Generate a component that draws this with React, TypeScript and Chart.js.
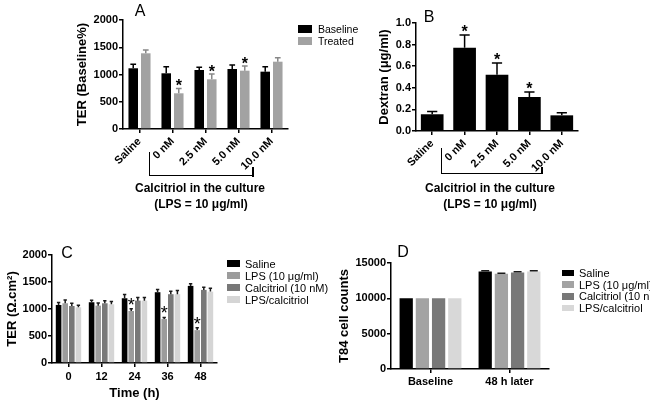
import React, { useEffect, useRef } from "react";
import { Chart, registerables } from "chart.js";

Chart.register(...registerables);

const FONT = "'Liberation Sans', Arial, Helvetica, sans-serif";

// ---------- Panel A: TER (Baseline%) ----------
const doseLabels = ["Saline", "0 nM", "2.5 nM", "5.0 nM", "10.0 nM"];
const legendA = ["Baseline", "Treated"];
const terBaseline = [1114, 1022, 1083, 1101, 1052];
const terBaselineErr = [73, 120, 50, 73, 90];
const terTreated = [1389, 655, 912, 1070, 1235];
const terTreatedErr = [60, 90, 97, 86, 73];
const terTreatedStar = [false, true, true, true, false];

// ---------- Panel B: Dextran ----------
const dextran = [0.155, 0.77, 0.52, 0.315, 0.145];
const dextranErr = [0.025, 0.12, 0.11, 0.045, 0.025];
const dextranStar = [false, true, true, true, false];

// ---------- Panel C: TER over time ----------
const timeLabels = ["0", "12", "24", "36", "48"];
const legendCD = ["Saline", "LPS (10 \u03bcg/ml)", "Calcitriol (10 nM)", "LPS/calcitriol"];
const terSalineC = [1075, 1125, 1199, 1311, 1428];
const terSalineErrC = [45, 35, 70, 50, 40];
const terLpsC = [1106, 1062, 963, 814, 609];
const terLpsErrC = [60, 50, 40, 30, 45];
const terLpsStarC = [false, false, true, true, true];
const terCalcC = [1056, 1106, 1155, 1274, 1354];
const terCalcErrC = [50, 45, 60, 55, 50];
const terLpsCalcC = [1031, 1087, 1155, 1274, 1322];
const terLpsCalcErrC = [40, 50, 60, 70, 60];

// ---------- Panel D: T84 cell counts ----------
const countLabels = ["Baseline", "48 h later"];
const countSaline = [10000, 13810];
const countSalineErr = [0, 90];
const countLps = [10000, 13490];
const countLpsErr = [0, 70];
const countCalc = [10000, 13670];
const countCalcErr = [0, 80];
const countLpsCalc = [10000, 13810];
const countLpsCalcErr = [0, 100];

const COL_BLACK = "#000000";
const COL_TREATED = "#a2a2a2";
const COL_LPS = "#9c9c9c";
const COL_CALC = "#787878";
const COL_LPSCALC = "#d5d5d5";

const errorStarsPlugin = {
  id: "errorStars",
  afterDatasetsDraw(chart: any, _args: any, opts: any) {
    const ctx = chart.ctx;
    const yScale = chart.scales.y;
    chart.data.datasets.forEach((ds: any, di: number) => {
      const meta = chart.getDatasetMeta(di);
      if (meta.hidden) return;
      meta.data.forEach((bar: any, i: number) => {
        const v = ds.data[i];
        const e = ds.errors ? ds.errors[i] : 0;
        const p = bar.getProps(["x", "y", "width"], true);
        const yTop = yScale.getPixelForValue(v + e);
        ctx.save();
        if (e > 0) {
          const half = (p.width * opts.capRatio) / 2;
          ctx.strokeStyle = ds.errColor || "#000";
          ctx.lineWidth = opts.lineWidth;
          ctx.beginPath();
          ctx.moveTo(p.x, p.y);
          ctx.lineTo(p.x, yTop);
          ctx.moveTo(p.x - half, yTop);
          ctx.lineTo(p.x + half, yTop);
          ctx.stroke();
        }
        if (ds.stars && ds.stars[i]) {
          ctx.fillStyle = "#000";
          ctx.font = opts.starFont;
          ctx.textAlign = "center";
          ctx.textBaseline = "alphabetic";
          ctx.fillText("*", p.x, yTop + opts.starDy);
        }
        ctx.restore();
      });
    });
  },
};

function yAxis(min: number, max: number, step: number, title: string, width: number, fmt?: (v: number) => string) {
  return {
    type: "linear",
    min,
    max,
    ticks: {
      stepSize: step,
      color: "#000",
      padding: 1,
      font: { family: FONT, size: 11, weight: "bold" },
      callback: (v: any) => (fmt ? fmt(Number(v)) : String(v)),
    },
    grid: { display: true, drawOnChartArea: false, drawTicks: true, tickLength: 4, color: "#000", lineWidth: 1.5 },
    border: { display: true, color: "#000", width: 1.5 },
    title: {
      display: true,
      text: title,
      color: "#000",
      padding: 0,
      font: { family: FONT, size: 13, weight: "bold", lineHeight: 1.2 },
    },
    afterFit: (s: any) => {
      s.width = width;
    },
  };
}

function xAxis(height: number, rotation: number, padding: number, title?: string) {
  return {
    type: "category",
    offset: true,
    ticks: {
      color: "#000",
      padding,
      minRotation: rotation,
      maxRotation: rotation,
      autoSkip: false,
      font: { family: FONT, size: 11, weight: "bold" },
    },
    grid: { display: true, offset: false, drawOnChartArea: false, drawTicks: true, tickLength: 4, color: "#000", lineWidth: 1.5 },
    border: { display: true, color: "#000", width: 1.5 },
    title: {
      display: !!title,
      text: title || "",
      color: "#000",
      padding: 0,
      font: { family: FONT, size: 13, weight: "bold", lineHeight: 1.2 },
    },
    afterFit: (s: any) => {
      s.height = height;
    },
  };
}

function baseOptions(padding: any, x: any, y: any, err: any) {
  return {
    responsive: false,
    maintainAspectRatio: false,
    animation: false,
    devicePixelRatio: 1,
    layout: { padding },
    scales: { x, y },
    plugins: {
      legend: { display: false },
      tooltip: { enabled: false },
      errorStars: err,
    },
  };
}

function configA() {
  return {
    type: "bar",
    data: {
      labels: doseLabels,
      datasets: [
        {
          label: legendA[0],
          data: terBaseline,
          errors: terBaselineErr,
          errColor: "#000",
          backgroundColor: COL_BLACK,
          categoryPercentage: 0.76,
          barPercentage: 0.76,
        },
        {
          label: legendA[1],
          data: terTreated,
          errors: terTreatedErr,
          stars: terTreatedStar,
          errColor: "#888888",
          backgroundColor: COL_TREATED,
          categoryPercentage: 0.76,
          barPercentage: 0.76,
        },
      ],
    },
    options: baseOptions(
      { left: 75, top: 20, right: 7, bottom: 0 },
      xAxis(71, 45, 2),
      yAxis(0, 2000, 500, "TER (Baseline%)", 48),
      { capRatio: 0.6, lineWidth: 1.5, starFont: `bold 16px ${FONT}`, starDy: 3 }
    ),
    plugins: [errorStarsPlugin],
  };
}

function configB() {
  return {
    type: "bar",
    data: {
      labels: doseLabels,
      datasets: [
        {
          label: "Dextran",
          data: dextran,
          errors: dextranErr,
          stars: dextranStar,
          errColor: "#000",
          backgroundColor: COL_BLACK,
          categoryPercentage: 1,
          barPercentage: 0.7,
        },
      ],
    },
    options: baseOptions(
      { left: 47, top: 23, right: 12, bottom: 0 },
      xAxis(69, 45, 2),
      yAxis(0, 1, 0.2, "Dextran (\u03bcg/ml)", 39, (v) => v.toFixed(1)),
      { capRatio: 0.45, lineWidth: 1.5, starFont: `bold 16px ${FONT}`, starDy: 2 }
    ),
    plugins: [errorStarsPlugin],
  };
}

function fourSeries(values: number[][], errs: number[][], colors: string[], stars: (boolean[] | undefined)[], cp: number, bp: number) {
  return values.map((d, i) => ({
    label: legendCD[i],
    data: d,
    errors: errs[i],
    stars: stars[i],
    errColor: "#1a1a1a",
    backgroundColor: colors[i],
    categoryPercentage: cp,
    barPercentage: bp,
  }));
}

function configC() {
  return {
    type: "bar",
    data: {
      labels: timeLabels,
      datasets: fourSeries(
        [terSalineC, terLpsC, terCalcC, terLpsCalcC],
        [terSalineErrC, terLpsErrC, terCalcErrC, terLpsCalcErrC],
        [COL_BLACK, COL_LPS, COL_CALC, COL_LPSCALC],
        [undefined, terLpsStarC, undefined, undefined],
        0.8,
        0.85
      ),
    },
    options: baseOptions(
      { left: 5, top: 25, right: 13, bottom: 3 },
      xAxis(38, 0, 3, "Time (h)"),
      yAxis(0, 2000, 500, "TER (\u03a9.cm\u00b2)", 47),
      { capRatio: 0.6, lineWidth: 1.5, starFont: `18px ${FONT}`, starDy: 2 }
    ),
    plugins: [errorStarsPlugin],
  };
}

function configD() {
  return {
    type: "bar",
    data: {
      labels: countLabels,
      datasets: fourSeries(
        [countSaline, countLps, countCalc, countLpsCalc],
        [countSalineErr, countLpsErr, countCalcErr, countLpsCalcErr],
        [COL_BLACK, "#a3a3a3", COL_CALC, "#d8d8d8"],
        [undefined, undefined, undefined, undefined],
        0.82,
        0.82
      ),
    },
    options: baseOptions(
      { left: 7, top: 33, right: 101, bottom: 0 },
      xAxis(35, 0, 2),
      yAxis(0, 15000, 5000, "T84 cell counts", 54),
      { capRatio: 0.6, lineWidth: 1.5, starFont: `15px ${FONT}`, starDy: 3 }
    ),
    plugins: [errorStarsPlugin],
  };
}

function ChartBox(props: { left: number; top: number; width: number; height: number; make: () => any }) {
  const ref = useRef<HTMLCanvasElement>(null);
  useEffect(() => {
    const chart = new Chart(ref.current as HTMLCanvasElement, props.make());
    return () => chart.destroy();
  }, []);
  return (
    <canvas
      ref={ref}
      width={props.width}
      height={props.height}
      style={{ position: "absolute", left: props.left, top: props.top, width: props.width, height: props.height }}
    />
  );
}

function Txt(props: { x: number; y: number; size: number; bold?: boolean; children: React.ReactNode }) {
  return (
    <div
      style={{
        position: "absolute",
        left: props.x,
        top: props.y,
        transform: "translate(-50%, -50%)",
        fontFamily: FONT,
        fontSize: props.size,
        fontWeight: props.bold ? "bold" : "normal",
        lineHeight: 1,
        whiteSpace: "nowrap",
        color: "#000",
      }}
    >
      {props.children}
    </div>
  );
}

function Rect(props: { x: number; y: number; w: number; h: number }) {
  return <div style={{ position: "absolute", left: props.x, top: props.y, width: props.w, height: props.h, background: "#000" }} />;
}

function Legend(props: { x: number; y: number; spacing: number; boxW: number; boxH: number; textX: number; size: number; labels: string[]; colors: string[] }) {
  return (
    <>
      {props.labels.map((lab, i) => (
        <React.Fragment key={i}>
          <div
            style={{
              position: "absolute",
              left: props.x,
              top: props.y + i * props.spacing - props.boxH / 2,
              width: props.boxW,
              height: props.boxH,
              background: props.colors[i],
            }}
          />
          <div
            style={{
              position: "absolute",
              left: props.textX,
              top: props.y + i * props.spacing,
              transform: "translateY(-50%)",
              fontFamily: FONT,
              fontSize: props.size,
              lineHeight: 1,
              whiteSpace: "nowrap",
              color: "#000",
            }}
          >
            {lab}
          </div>
        </React.Fragment>
      ))}
    </>
  );
}

export default function App() {
  return (
    <div style={{ position: "fixed", left: 0, top: 0, width: 650, height: 404, overflow: "hidden", background: "#fff" }}>
      <ChartBox left={0} top={0} width={295} height={200} make={configA} />
      <ChartBox left={330} top={0} width={260} height={200} make={configB} />
      <ChartBox left={0} top={230} width={230} height={174} make={configC} />
      <ChartBox left={330} top={230} width={320} height={174} make={configD} />

      <Txt x={140} y={11} size={16}>A</Txt>
      <Txt x={429} y={17} size={16}>B</Txt>
      <Txt x={67} y={253} size={16}>C</Txt>
      <Txt x={403} y={252} size={16}>D</Txt>

      <Legend x={298} y={28.5} spacing={12.5} boxW={14} boxH={8} textX={318} size={10.5} labels={legendA} colors={[COL_BLACK, COL_TREATED]} />
      <Legend x={227} y={263.5} spacing={12} boxW={13} boxH={7} textX={245} size={11} labels={legendCD} colors={[COL_BLACK, COL_LPS, COL_CALC, COL_LPSCALC]} />
      <Legend x={562} y={273} spacing={11.7} boxW={11.5} boxH={6.5} textX={579} size={11} labels={legendCD} colors={[COL_BLACK, "#a3a3a3", COL_CALC, "#d8d8d8"]} />

      {/* Bracket A */}
      <Rect x={148.5} y={152} w={1.5} h={24} />
      <Rect x={148.5} y={174.5} w={105} h={1.5} />
      <Rect x={252} y={166.5} w={1.5} h={10} />
      <Txt x={200} y={188} size={12} bold>Calcitriol in the culture</Txt>
      <Txt x={201} y={204} size={12} bold>(LPS = 10 {"\u03bc"}g/ml)</Txt>

      {/* Bracket B */}
      <Rect x={440.5} y={148} w={1.5} h={26} />
      <Rect x={440.5} y={172.5} w={102} h={1.5} />
      <Rect x={541} y={166.5} w={1.5} h={7.5} />
      <Txt x={490} y={188} size={12} bold>Calcitriol in the culture</Txt>
      <Txt x={490} y={204} size={12} bold>(LPS = 10 {"\u03bc"}g/ml)</Txt>
    </div>
  );
}
